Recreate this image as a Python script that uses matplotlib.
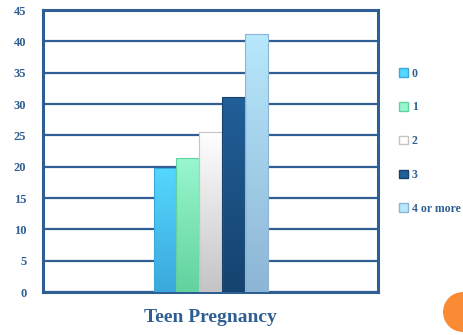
import numpy as np
import matplotlib.pyplot as plt
from matplotlib.colors import LinearSegmentedColormap
from matplotlib.patches import Rectangle, Ellipse

# births to teens, grouped by number of prior pregnancies
categories = ["0", "1", "2", "3", "4 or more"]
values = [19.8, 21.4, 25.5, 31.1, 41.1]
group_label = "Teen Pregnancy"

# (top colour, bottom colour) for each bar's vertical gradient
bar_colors = [
    ("#55d8ff", "#3aa8dc"),
    ("#98f7cf", "#62d29e"),
    ("#ffffff", "#c4c4c4"),
    ("#215f98", "#15436f"),
    ("#b8e8fc", "#8db5d6"),
]
navy = "#2f5f92"

plt.rcParams['font.family'] = ['Liberation Serif', 'DejaVu Serif']

W, H = 464, 335
fig = plt.figure(figsize=(W / 100, H / 100), dpi=100)
ax = fig.add_axes([0.093, 0.128, 0.722, 0.842])

width = 0.068
x = (np.arange(len(values)) - 2) * width
ax.set_xlim(-0.5, 0.5)
ax.set_ylim(0, 45)

grad = np.linspace(1, 0, 256).reshape(-1, 1)
for xi, v, (c_top, c_bot) in zip(x, values, bar_colors):
    cmap = LinearSegmentedColormap.from_list("g", [c_bot, c_top])
    im = ax.imshow(grad, cmap=cmap, aspect='auto', origin='upper',
                   extent=(xi - width / 2, xi + width / 2, 0, v), zorder=3)
    clip = Rectangle((xi - width / 2, 0), width, v, transform=ax.transData)
    im.set_clip_path(clip)
    ax.add_patch(Rectangle((xi - width / 2, 0), width, v, fill=False,
                           ec=c_bot, lw=0.8, zorder=4))

ax.set_xlim(-0.5, 0.5)
ax.set_ylim(0, 45)
ax.set_yticks(np.arange(0, 46, 5))
ax.yaxis.grid(True, color=navy, lw=1.6, zorder=1)
ax.set_axisbelow(True)
ax.set_xticks([])
ax.tick_params(axis='y', length=0, pad=12, labelsize=9, labelcolor=navy)
for lab in ax.get_yticklabels():
    lab.set_fontweight('bold')
for sp in ax.spines.values():
    sp.set_color(navy)
    sp.set_linewidth(2.2)

ax.set_xlabel(group_label, fontsize=14, fontweight='bold', color=navy,
              labelpad=12)

handles = [Rectangle((0, 0), 1, 1, fc=c_top, ec=c_bot) for c_top, c_bot in bar_colors]
leg = fig.legend(handles, categories, loc='upper left',
                 bbox_to_anchor=(0.838, 0.83), frameon=False,
                 handlelength=0.75, handleheight=0.75, handletextpad=0.3,
                 labelspacing=1.85, prop={'size': 8.5, 'weight': 'bold'})
for t in leg.get_texts():
    t.set_color(navy)

# orange accent dot in the lower right corner
fig.patches.append(Ellipse((463 / W, 1 - 312 / H), 40 / W, 40 / H,
                           transform=fig.transFigure, fc="#fb8a35", ec='none'))

fig.savefig("out.png", dpi=100)
